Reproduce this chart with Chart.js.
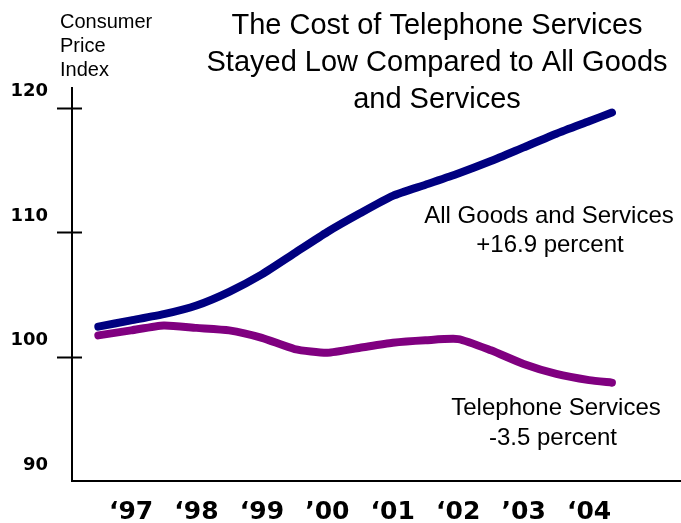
<!DOCTYPE html>
<html>
<head>
<meta charset="utf-8">
<title>Consumer Price Index</title>
<script src="https://cdn.jsdelivr.net/npm/chart.js@4/dist/chart.umd.min.js"></script>
<style>
    body { margin: 0; background: #fff; }
    #wrap { width: 681px; height: 523px; }
</style>
</head>
<body>
<div id="wrap"><canvas id="cpiChart" width="681" height="523"></canvas></div>
<script>
// half-year sample points, Jan 1997 .. Nov 2004
var periods = [1997.0, 1997.5, 1998.0, 1998.5, 1999.0, 1999.5, 2000.0, 2000.5, 2001.0,
               2001.5, 2002.0, 2002.5, 2003.0, 2003.5, 2004.0, 2004.5, 2004.85];
var allGoods = [102.4, 102.9, 103.4, 104.1, 105.2, 106.6, 108.3, 110.0, 111.5,
                112.9, 113.8, 114.7, 115.7, 116.8, 117.9, 118.9, 119.6];
var telephone = [101.7, 102.1, 102.5, 102.3, 102.1, 101.5, 100.6, 100.3, 100.7,
                 101.1, 101.3, 101.4, 100.5, 99.4, 98.6, 98.1, 97.9];

// year labels sit in the middle of each year
var yearTicks = [1997.5, 1998.5, 1999.5, 2000.5, 2001.5, 2002.5, 2003.5, 2004.5];
var yearLabels = ['‘97', '‘98', '‘99', '’00', '‘01', '‘02', '’03', '‘04'];
var indexTicks = [90, 100, 110, 120];

function toPoints(values) {
    return values.map(function (v, i) { return { x: periods[i], y: v }; });
}

// text around the plot + the little cross marks on the y axis
var extras = {
    id: 'extras',
    afterDraw: function (chart) {
        var ctx = chart.ctx;
        var yScale = chart.scales.y;
        var left = chart.chartArea.left;

        ctx.save();
        ctx.strokeStyle = '#000';
        ctx.lineWidth = 2;
        indexTicks.forEach(function (v) {
            if (v <= yScale.min) return;
            var py = Math.round(yScale.getPixelForValue(v)) + 0.5;
            ctx.beginPath();
            ctx.moveTo(left - 15, py);
            ctx.lineTo(left + 10, py);
            ctx.stroke();
        });

        ctx.fillStyle = '#000';
        ctx.textBaseline = 'alphabetic';

        ctx.font = '20px "Liberation Sans", Arial, sans-serif';
        ctx.textAlign = 'left';
        ctx.fillText('Consumer', 60, 28);
        ctx.fillText('Price', 60, 52);
        ctx.fillText('Index', 60, 76);

        ctx.font = '29px "Liberation Sans", Arial, sans-serif';
        ctx.textAlign = 'center';
        ctx.fillText('The Cost of Telephone Services', 437, 34);
        ctx.fillText('Stayed Low Compared to All Goods', 437, 71);
        ctx.fillText('and Services', 437, 108);

        ctx.font = '24px "Liberation Sans", Arial, sans-serif';
        ctx.fillText('All Goods and Services', 549, 223);
        ctx.fillText('+16.9 percent', 550, 252);
        ctx.fillText('Telephone Services', 556, 415);
        ctx.fillText('-3.5 percent', 553, 445);
        ctx.restore();
    }
};

var ctx = document.getElementById('cpiChart').getContext('2d');
new Chart(ctx, {
    type: 'line',
    data: {
        datasets: [{
            label: 'Telephone Services',
            data: toPoints(telephone),
            borderColor: '#800080',
            borderWidth: 8,
            borderCapStyle: 'round',
            borderJoinStyle: 'round',
            tension: 0.2,
            pointRadius: 0
        }, {
            label: 'All Goods and Services',
            data: toPoints(allGoods),
            borderColor: '#000080',
            borderWidth: 8,
            borderCapStyle: 'round',
            borderJoinStyle: 'round',
            tension: 0.2,
            pointRadius: 0
        }]
    },
    options: {
        responsive: false,
        animation: false,
        layout: { padding: { top: 88, right: 0, bottom: 0, left: 0 } },
        plugins: {
            legend: { display: false },
            tooltip: { enabled: false }
        },
        scales: {
            x: {
                type: 'linear',
                min: 1996.598,
                max: 2005.905,
                grid: { display: false, drawTicks: false },
                border: { display: true, color: '#000', width: 2 },
                afterBuildTicks: function (scale) {
                    scale.ticks = yearTicks.map(function (v) { return { value: v }; });
                },
                afterFit: function (scale) { scale.height = 42; },
                ticks: {
                    autoSkip: false,
                    maxRotation: 0,
                    padding: 16,
                    color: '#000',
                    font: { family: '"DejaVu Sans", sans-serif', size: 25, weight: 'bold' },
                    callback: function (value, index) { return yearLabels[index]; }
                }
            },
            y: {
                min: 90,
                max: 121.57,
                grid: { display: false, drawTicks: false },
                border: { display: true, color: '#000', width: 2 },
                afterBuildTicks: function (scale) {
                    scale.ticks = indexTicks.map(function (v) { return { value: v }; });
                },
                afterFit: function (scale) { scale.width = 72; },
                ticks: {
                    padding: 24,
                    labelOffset: -16,
                    color: '#000',
                    font: { family: '"DejaVu Sans", sans-serif', size: 18, weight: 'bold' }
                }
            }
        }
    },
    plugins: [extras]
});
</script>
</body>
</html>
